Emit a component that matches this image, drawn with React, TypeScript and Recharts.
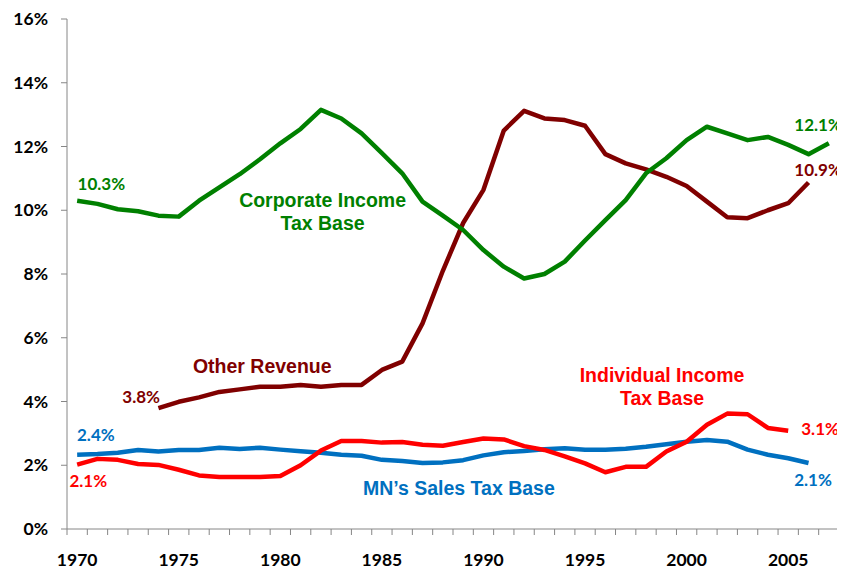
import React from "react";
import { LineChart, Line, XAxis, YAxis, ReferenceDot } from "recharts";

const YEARS = [
  1970, 1971, 1972, 1973, 1974, 1975, 1976, 1977, 1978, 1979,
  1980, 1981, 1982, 1983, 1984, 1985, 1986, 1987, 1988, 1989,
  1990, 1991, 1992, 1993, 1994, 1995, 1996, 1997, 1998, 1999,
  2000, 2001, 2002, 2003, 2004, 2005, 2006, 2007,
];

const CORPORATE = [
  10.3, 10.2, 10.03, 9.97, 9.83, 9.8, 10.3, 10.72, 11.13, 11.6,
  12.1, 12.55, 13.15, 12.88, 12.41, 11.79, 11.16, 10.27, 9.83, 9.38,
  8.75, 8.23, 7.86, 8.0, 8.39, 9.05, 9.69, 10.32, 11.16, 11.63,
  12.2, 12.62, 12.41, 12.2, 12.3, 12.05, 11.76, 12.1,
];

const OTHER: (number | null)[] = [
  null, null, null, null, 3.79, 3.99, 4.13, 4.3, 4.38, 4.46,
  4.46, 4.52, 4.46, 4.52, 4.52, 4.99, 5.25, 6.45, 8.1, 9.6,
  10.64, 12.5, 13.12, 12.88, 12.83, 12.65, 11.76, 11.47, 11.28, 11.05,
  10.76, 10.27, 9.78, 9.75, 10.0, 10.22, 10.87, null,
];

const INDIVIDUAL: (number | null)[] = [
  2.02, 2.2, 2.17, 2.04, 2.01, 1.86, 1.68, 1.63, 1.63, 1.63,
  1.66, 2.0, 2.46, 2.76, 2.76, 2.71, 2.73, 2.64, 2.61, 2.73,
  2.84, 2.81, 2.6, 2.48, 2.28, 2.06, 1.78, 1.95, 1.95, 2.43,
  2.74, 3.27, 3.62, 3.6, 3.17, 3.08, null, null,
];

const SALES: (number | null)[] = [
  2.33, 2.35, 2.39, 2.48, 2.43, 2.48, 2.48, 2.55, 2.51, 2.55,
  2.49, 2.44, 2.39, 2.33, 2.3, 2.17, 2.13, 2.07, 2.09, 2.16,
  2.31, 2.41, 2.45, 2.5, 2.53, 2.49, 2.49, 2.52, 2.58, 2.66,
  2.74, 2.79, 2.74, 2.49, 2.33, 2.22, 2.07, null,
];

const Y_TICKS = [0, 2, 4, 6, 8, 10, 12, 14, 16];
const X_LABEL_YEARS = [1970, 1975, 1980, 1985, 1990, 1995, 2000, 2005];

const ANNOTATIONS = [
  { x: 1982.08, y: 10.11, lines: ["Corporate Income", "Tax Base"], color: "#008000", kind: "name" },
  { x: 1979.11, y: 4.885, lines: ["Other Revenue"], color: "#800000", kind: "name" },
  { x: 1998.79, y: 4.61, lines: ["Individual Income", "Tax Base"], color: "#FF0000", kind: "name" },
  { x: 1988.79, y: 1.067, lines: ["MN\u2019s Sales Tax Base"], color: "#0070C0", kind: "name" },
  { x: 1971.19, y: 10.635, lines: ["10.3%"], color: "#008000", kind: "value" },
  { x: 2006.47, y: 12.496, lines: ["12.1%"], color: "#008000", kind: "value" },
  { x: 2006.47, y: 11.084, lines: ["10.9%"], color: "#800000", kind: "value" },
  { x: 1973.15, y: 3.953, lines: ["3.8%"], color: "#800000", kind: "value" },
  { x: 1970.92, y: 2.77, lines: ["2.4%"], color: "#0070C0", kind: "value" },
  { x: 1970.55, y: 1.327, lines: ["2.1%"], color: "#FF0000", kind: "value" },
  { x: 2006.57, y: 2.949, lines: ["3.1%"], color: "#FF0000", kind: "value" },
  { x: 2006.22, y: 1.349, lines: ["2.1%"], color: "#0070C0", kind: "value" },
];

const DATA = YEARS.map((year, i) => ({
  year,
  corp: CORPORATE[i],
  other: OTHER[i],
  ind: INDIVIDUAL[i],
  sales: SALES[i],
}));

const W = 837;
const H = 561;
const MARGIN = { top: 11, right: 6, bottom: 0, left: 0 };
const YAXIS_W = 59;
const XAXIS_H = 40;
const X_MIN = YEARS[0] - 0.5;
const X_MAX = YEARS[YEARS.length - 1] + 0.5;
const BAND = (W - MARGIN.left - MARGIN.right - YAXIS_W) / (X_MAX - X_MIN);
const BOUNDARIES = [...YEARS.map((y) => y - 0.5), X_MAX];

const TICK_FONT = "Lato, 'Open Sans', sans-serif";
const NAME_FONT = "'Liberation Sans', Arial, sans-serif";
const AXIS_GRAY = "#868686";

function XTick(props: any) {
  const { x, y, payload } = props;
  const yr = Math.round(payload.value + 0.5);
  if (!X_LABEL_YEARS.includes(yr)) return null;
  return (
    <text
      x={x + BAND / 2}
      y={y + 29}
      textAnchor="middle"
      fontFamily={TICK_FONT}
      fontWeight={700}
      fontSize={17.5}
      fill="#000"
    >
      {yr}
    </text>
  );
}

export default function App() {
  return (
    <LineChart width={W} height={H} data={DATA} margin={MARGIN}>
      <XAxis
        dataKey="year"
        type="number"
        domain={[X_MIN, X_MAX]}
        ticks={BOUNDARIES}
        interval={0}
        height={XAXIS_H}
        axisLine={{ stroke: AXIS_GRAY }}
        tickLine={{ stroke: AXIS_GRAY }}
        tickSize={6}
        tick={<XTick />}
        allowDataOverflow
      />
      <YAxis
        type="number"
        domain={[0, 16]}
        ticks={Y_TICKS}
        interval={0}
        width={YAXIS_W}
        axisLine={{ stroke: AXIS_GRAY }}
        tickLine={{ stroke: AXIS_GRAY }}
        tickSize={6}
        tickMargin={13}
        tickFormatter={(v: number) => `${v}%`}
        tick={{ fontFamily: TICK_FONT, fontWeight: 700, fontSize: 17.5, fill: "#000" }}
      />
      <Line dataKey="sales" stroke="#0070C0" strokeWidth={4.5} dot={false} activeDot={false} isAnimationActive={false} type="linear" strokeLinejoin="round" />
      <Line dataKey="ind" stroke="#FF0000" strokeWidth={4.5} dot={false} activeDot={false} isAnimationActive={false} type="linear" strokeLinejoin="round" />
      <Line dataKey="other" stroke="#800000" strokeWidth={4.5} dot={false} activeDot={false} isAnimationActive={false} type="linear" strokeLinejoin="round" />
      <Line dataKey="corp" stroke="#008000" strokeWidth={4.5} dot={false} activeDot={false} isAnimationActive={false} type="linear" strokeLinejoin="round" />
      {ANNOTATIONS.map((a, i) => (
        <ReferenceDot
          key={i}
          x={a.x}
          y={a.y}
          r={1}
          ifOverflow="visible"
          shape={(p: any) => (
            <text
              x={p.cx}
              y={p.cy}
              textAnchor="middle"
              fill={a.color}
              fontFamily={a.kind === "name" ? NAME_FONT : TICK_FONT}
              fontWeight={700}
              fontSize={a.kind === "name" ? 19.5 : 17}
            >
              {a.lines.map((l, j) => (
                <tspan key={j} x={p.cx} dy={j === 0 ? 0 : 23.3}>
                  {l}
                </tspan>
              ))}
            </text>
          )}
        />
      ))}
    </LineChart>
  );
}
